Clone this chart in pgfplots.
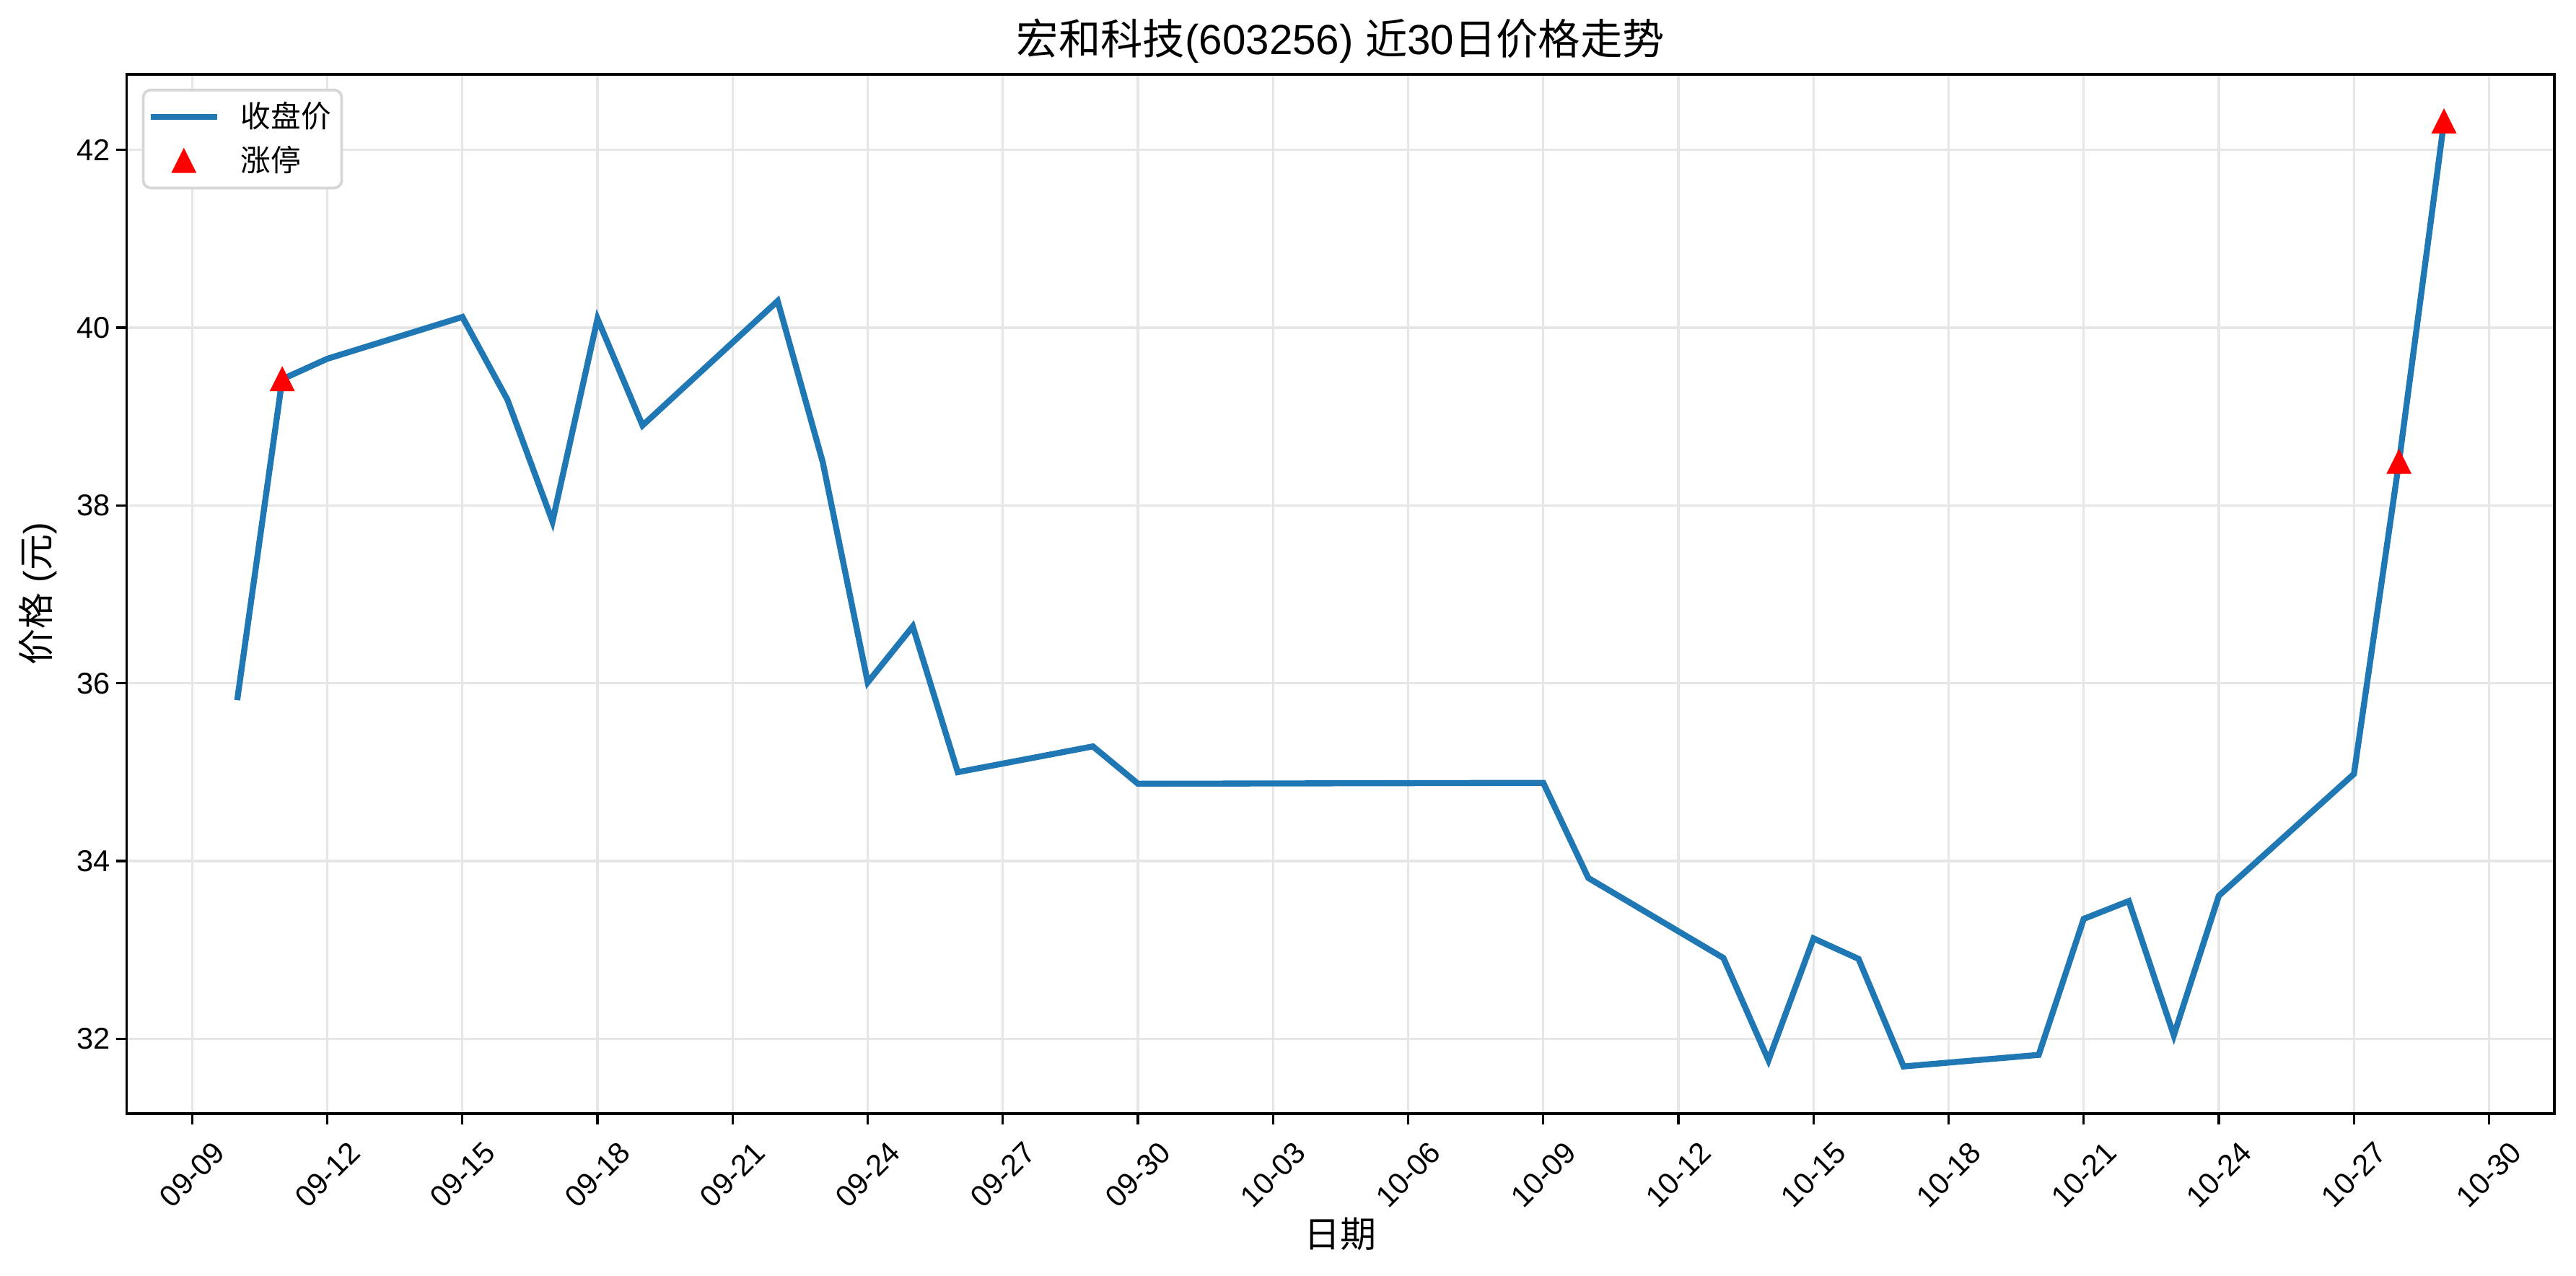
\documentclass[border=0pt]{standalone}
\usepackage{fontspec}
\setmainfont{Liberation Sans}
\newfontfamily\cjk{Noto Sans CJK SC}
\usepackage{pgfplots}
\pgfplotsset{compat=1.18}
\definecolor{mplblue}{HTML}{1F77B4}
\definecolor{gridc}{RGB}{230,230,230}
\definecolor{legc}{RGB}{214,214,214}
\pgfdeclareplotmark{mtri}{%
  \pgfpathmoveto{\pgfqpoint{0pt}{\pgfplotmarksize}}%
  \pgfpathlineto{\pgfqpoint{-\pgfplotmarksize}{-\pgfplotmarksize}}%
  \pgfpathlineto{\pgfqpoint{\pgfplotmarksize}{-\pgfplotmarksize}}%
  \pgfpathclose\pgfusepathqfillstroke}
\newcommand\rl[1]{\rotatebox{45}{#1}}
\begin{document}
\begin{tikzpicture}
\useasboundingbox (-42.2pt,-53.8pt) rectangle (814.6pt,370.3pt);
\begin{axis}[
  at={(0,0)}, anchor=south west,
  scale only axis, width=807.4pt, height=345.6pt,
  xmin=-1.45, xmax=52.45, ymin=31.16, ymax=42.85,
  axis line style={line width=0.8pt},
  tick style={black, line width=0.8pt},
  tick align=outside, major tick length=3.5pt,
  xtick pos=bottom, ytick pos=left,
  xtick={0,3,...,51},
  xticklabels={\rl{09-09},\rl{09-12},\rl{09-15},\rl{09-18},\rl{09-21},\rl{09-24},\rl{09-27},\rl{09-30},\rl{10-03},\rl{10-06},\rl{10-09},\rl{10-12},\rl{10-15},\rl{10-18},\rl{10-21},\rl{10-24},\rl{10-27},\rl{10-30}},
  ytick={32,34,...,42},
  /pgf/number format/assume math mode=true,
  ticklabel style={font=\fontsize{10}{12}\selectfont},
  xticklabel style={anchor=north, inner sep=0pt, yshift=-5pt},
  yticklabel style={anchor=east, inner sep=0pt, xshift=-1.9pt},
  grid=major, major grid style={gridc, line width=0.8pt},
  title={{\cjk 宏和科技}(603256) {\cjk 近}30{\cjk 日价格走势}},
  every axis title/.style={at={(axis description cs:0.5,1)}, anchor=center, yshift=11pt, font=\fontsize{14}{16}\selectfont},
  xlabel={\cjk 日期},
  every axis x label/.style={at={(axis description cs:0.5,0)}, anchor=center, yshift=-40pt, font=\fontsize{12}{14}\selectfont},
  ylabel={{\cjk 价格} ({\cjk 元})},
  every axis y label/.style={at={([xshift=-29.5pt]axis description cs:0,0.5)}, anchor=center, rotate=90, font=\fontsize{12}{14}\selectfont},
  legend style={at={(axis description cs:0,1)}, anchor=north west, xshift=5pt, yshift=-4.8pt,
    draw=legc, line width=0.9pt, rounded corners=2.5pt, fill=white,
    font=\fontsize{10}{12}\selectfont\cjk, inner xsep=1.5pt, inner ysep=2pt, row sep=0.6pt,
    /tikz/every odd column/.append style={column sep=5pt}},
  legend cell align=left,
]
\addplot[mplblue, line width=2pt, no markers, legend image code/.code={\draw[mplblue, line width=2pt] (0pt,0pt) -- (22pt,0pt);}] coordinates {
(1,35.81) (2,39.42) (3,39.65) (6,40.12) (7,39.19) (8,37.82) (9,40.10) (10,38.90)
(13,40.30) (14,38.49) (15,36.01) (16,36.64) (17,35.00) (20,35.29) (21,34.87)
(30,34.88) (31,33.81) (34,32.91) (35,31.76) (36,33.13) (37,32.90) (38,31.69)
(41,31.82) (42,33.35) (43,33.55) (44,32.04) (45,33.61) (48,34.98) (49,38.49) (50,42.32)
};
\addlegendentry{收盘价}
\addplot[only marks, mark=mtri, mark size=3.7pt, mark options={fill=red, draw=red, line width=0.6pt},
  legend image code/.code={\draw[red, fill=red, line width=0.6pt] plot[mark=mtri, mark size=3.7pt] coordinates {(11pt,0pt)};}] coordinates {
(2,39.42) (49,38.49) (50,42.32)
};
\addlegendentry{涨停}
\end{axis}
\end{tikzpicture}
\end{document}
